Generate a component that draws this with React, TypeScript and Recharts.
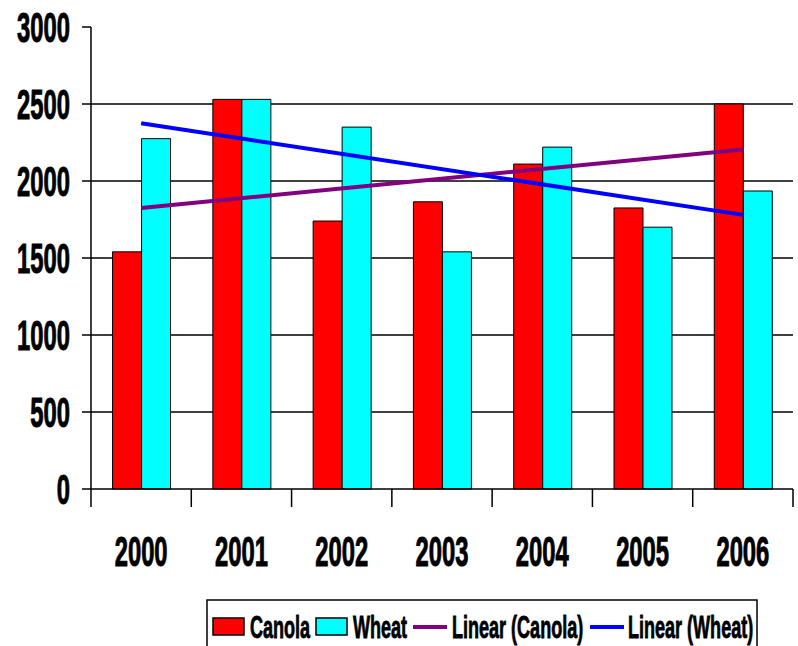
import React from "react";
import { ComposedChart, Bar, Line, XAxis, YAxis, CartesianGrid } from "recharts";

const years = ["2000", "2001", "2002", "2003", "2004", "2005", "2006"];
const canola = [1540, 2530, 1740, 1865, 2110, 1825, 2500];
const wheat = [2275, 2530, 2350, 1540, 2220, 1700, 1935];
// trend lines read at the first and last year only
const canolaTrend = [1825, null, null, null, null, null, 2205];
const wheatTrend = [2375, null, null, null, null, null, 1780];
const yTicks = [0, 500, 1000, 1500, 2000, 2500, 3000];
const gridTicks = [500, 1000, 1500, 2000, 2500];

const data = years.map((year, i) => ({
  year,
  canola: canola[i],
  wheat: wheat[i],
  canolaTrend: canolaTrend[i],
  wheatTrend: wheatTrend[i],
}));

const FONT = "'Liberation Sans', Arial, sans-serif";

const legendItems = [
  { name: "Canola", type: "rect", color: "#FF0000", x: 213, tx: 250 },
  { name: "Wheat", type: "rect", color: "#00FFFF", x: 316, tx: 353 },
  { name: "Linear (Canola)", type: "line", color: "#800080", x: 413, tx: 452 },
  { name: "Linear (Wheat)", type: "line", color: "#0000FF", x: 590, tx: 628 },
];

const YTick = (props: any) => {
  const { x, y, payload } = props;
  return (
    <text
      transform={`translate(${x},${y}) scale(0.82,1.44)`}
      textAnchor="end"
      dominantBaseline="central"
      fontFamily={FONT}
      fontWeight="bold"
      fontSize={29}
      fill="#000"
      stroke="#000"
      strokeWidth={0.7}
    >
      {payload.value}
    </text>
  );
};

// category label plus tick marks on the category boundaries
const XTick = (props: any) => {
  const { x, y, payload, index, visibleTicksCount } = props;
  const half = payload.offset || 0;
  const isLast = index === visibleTicksCount - 1;
  return (
    <g>
      <line x1={x - half} x2={x - half} y1={y} y2={y + 18} stroke="#000" strokeWidth={1.5} />
      {isLast && <line x1={x + half} x2={x + half} y1={y} y2={y + 18} stroke="#000" strokeWidth={1.5} />}
      <text
        transform={`translate(${x},${y + 62}) scale(0.82,1.44)`}
        textAnchor="middle"
        dominantBaseline="central"
        fontFamily={FONT}
        fontWeight="bold"
        fontSize={29}
        fill="#000"
        stroke="#000"
        strokeWidth={0.7}
      >
        {payload.value}
      </text>
    </g>
  );
};

function LegendBox() {
  return (
    <svg
      width={798}
      height={646}
      style={{ position: "absolute", left: 0, top: 0, pointerEvents: "none" }}
    >
      <rect x={207} y={600} width={550} height={60} fill="#fff" stroke="#000" strokeWidth={1.5} />
      {legendItems.map((it) => (
        <g key={it.name}>
          {it.type === "rect" ? (
            <rect x={it.x} y={618} width={31} height={17} fill={it.color} stroke="#000" strokeWidth={1.5} />
          ) : (
            <line x1={it.x} x2={it.x + 34} y1={627} y2={627} stroke={it.color} strokeWidth={4} />
          )}
          <text
            transform={`translate(${it.tx},627) scale(0.82,1.4)`}
            dominantBaseline="central"
            fontFamily={FONT}
            fontWeight="bold"
            fontSize={22}
            fill="#000"
            stroke="#000"
            strokeWidth={0.6}
          >
            {it.name}
          </text>
        </g>
      ))}
    </svg>
  );
}

export default function App() {
  return (
    <div style={{ position: "absolute", left: 0, top: 0, width: 798, height: 646, background: "#fff" }}>
      <ComposedChart
        width={798}
        height={646}
        data={data}
        margin={{ top: 27, right: 5, bottom: 87, left: 0 }}
        barCategoryGap="21.5%"
        barGap={0}
      >
        <CartesianGrid
          vertical={false}
          horizontalValues={gridTicks}
          syncWithTicks
          stroke="#000"
          strokeWidth={1.5}
        />
        <XAxis
          dataKey="year"
          height={70}
          stroke="#000"
          strokeWidth={1.5}
          tickLine={false}
          tickSize={0}
          tickMargin={0}
          tick={<XTick />}
          interval={0}
        />
        <YAxis
          width={91}
          domain={[0, 3000]}
          ticks={yTicks}
          interval={0}
          tickSize={9}
          tickMargin={12}
          tick={<YTick />}
          stroke="#000"
          strokeWidth={1.5}
        />
        <Bar dataKey="canola" name="Canola" fill="#FF0000" stroke="#000" strokeWidth={1} isAnimationActive={false} />
        <Bar dataKey="wheat" name="Wheat" fill="#00FFFF" stroke="#000" strokeWidth={1} isAnimationActive={false} />
        <Line
          dataKey="canolaTrend"
          name="Linear (Canola)"
          stroke="#800080"
          strokeWidth={4}
          dot={false}
          connectNulls
          isAnimationActive={false}
        />
        <Line
          dataKey="wheatTrend"
          name="Linear (Wheat)"
          stroke="#0000FF"
          strokeWidth={4}
          dot={false}
          connectNulls
          isAnimationActive={false}
        />
      </ComposedChart>
      <LegendBox />
    </div>
  );
}
